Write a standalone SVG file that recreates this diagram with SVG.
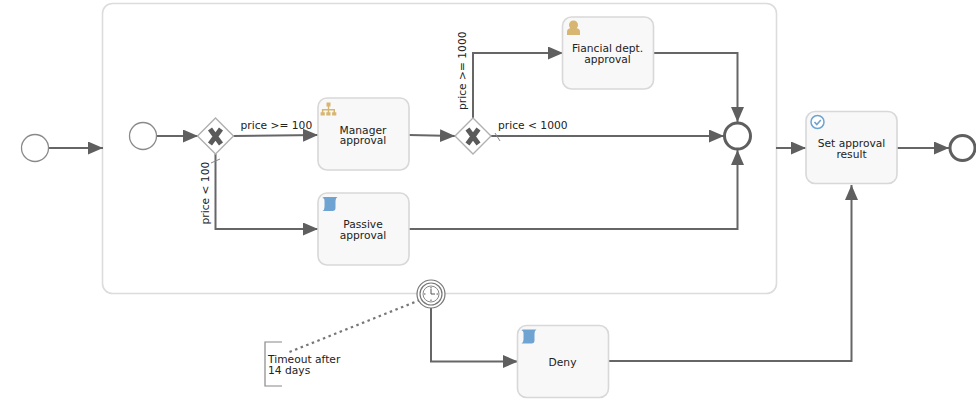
<svg xmlns="http://www.w3.org/2000/svg" width="976" height="401" viewBox="0 0 976 401">
<style>
text{font-family:"DejaVu Sans",sans-serif;font-size:10.7px;fill:#222}
.m{text-anchor:middle}
.task{fill:#f8f8f8;stroke:#d8d8d8;stroke-width:1.6}
.flow{fill:none;stroke:#666;stroke-width:2}
.gw{fill:#fff;stroke:#b0b0b0;stroke-width:1.4}
.x{fill:none;stroke:#5a5a5a;stroke-width:5}
.tick{stroke:#888;stroke-width:1;fill:none}
.end{fill:#fff;stroke:#5f5f5f;stroke-width:3}
.start{fill:#fff;stroke:#8a8a8a;stroke-width:1.3}
.blue{fill:#6ea3d2}
.gold{fill:#d6b670}
</style>
<defs>
<marker id="a" markerUnits="userSpaceOnUse" markerWidth="16" markerHeight="14" refX="15" refY="6.5" orient="auto"><path d="M0 0L15 6.5L0 13Z" fill="#5f5f5f"/></marker>
<path id="scroll" d="M2 0H15Q13 1 13 4V11Q13 14 10 14H0Q2 13 2 10V4Q2 1 0 1Q0 0 2 0Z" class="blue"/>
</defs>
<rect id="subprocess" x="102.500" y="3.500" width="674" height="290" rx="10" fill="#fff" stroke="#dcdcdc" stroke-width="1.6"/>
<g id="connectors">
<path class="flow" d="M49 148H103" marker-end="url(#a)"/>
<path class="flow" d="M157 136H198" marker-end="url(#a)"/>
<path class="flow" d="M233 136L318 135" marker-end="url(#a)"/>
<path class="flow" d="M215.500 154V229H318" marker-end="url(#a)"/>
<path class="flow" d="M409 135L455 136" marker-end="url(#a)"/>
<path class="flow" d="M473 118V53H563" marker-end="url(#a)"/>
<path class="flow" d="M491 136H724" marker-end="url(#a)"/>
<path class="flow" d="M653 53H737.500V122" marker-end="url(#a)"/>
<path class="flow" d="M409 229H737.500V150" marker-end="url(#a)"/>
<path class="flow" d="M776 148H806" marker-end="url(#a)"/>
<path class="flow" d="M897 148H949" marker-end="url(#a)"/>
<path class="flow" d="M431 308V361.500H518" marker-end="url(#a)"/>
<path class="flow" d="M608 361H851.500V185" marker-end="url(#a)"/>
<path d="M420 300L287 353" fill="none" stroke="#777" stroke-width="2.200" stroke-dasharray="2.500 3.500"/>
<path class="tick" d="M211 163L220 159"/>
<path class="tick" d="M495 133L500 141"/>
</g>
<g id="outer-start"><circle class="start" cx="35" cy="148" r="13.500"/></g>
<g id="inner-start"><circle class="start" cx="143" cy="136" r="13.500"/></g>
<g id="gateway1"><path class="gw" d="M215.500 118L233.500 136L215.500 154L197.500 136Z"/><path class="x" d="M210 129L221 144M221 129L210 144"/></g>
<g id="gateway2"><path class="gw" d="M473 118L491 136L473 154L455 136Z"/><path class="x" d="M467.500 129L478.500 144M478.500 129L467.500 144"/></g>
<g id="manager"><rect class="task" x="318" y="98" width="91" height="72" rx="9"/>
<path class="gold" d="M326.500 102.500h4v4h-1.300v2.500h5.800v3.200h1.300v3.300h-4.200v-3.300h1.400v-1.700h-4.300v1.700h1.300v3.300h-4.200v-3.300h1.400v-1.700h-4.300v1.700h1.400v3.300h-4.200v-3.300h1.300v-3.200h5.900v-2.500h-1.300z"/>
<text class="m" x="363" y="133.500">Manager</text><text class="m" x="363" y="144">approval</text></g>
<g id="passive"><rect class="task" x="318" y="193" width="91" height="72" rx="9"/>
<use href="#scroll" x="322.500" y="197"/>
<text class="m" x="363" y="228">Passive</text><text class="m" x="363" y="239">approval</text></g>
<g id="financial"><rect class="task" x="562.500" y="17" width="91" height="72" rx="9"/>
<circle class="gold" cx="573.500" cy="25" r="4.500"/><path class="gold" d="M567 35v-3.500q0-3 4-3.500h5q4 .5 4 3.500V35Z"/>
<text class="m" x="607.500" y="52">Fiancial dept.</text><text class="m" x="607.500" y="63">approval</text></g>
<g id="deny"><rect class="task" x="517.500" y="325.500" width="91" height="72" rx="9"/>
<use href="#scroll" x="521.500" y="329.500"/>
<text class="m" x="562.500" y="366">Deny</text></g>
<g id="set-result"><rect class="task" x="806" y="111.500" width="91" height="72" rx="9"/>
<circle cx="817.500" cy="122" r="6.500" fill="#fff" stroke="#6ea3d2" stroke-width="1.500"/><path d="M814.500 122l2.300 2.500 4-4.500" fill="none" stroke="#6ea3d2" stroke-width="1.600"/>
<text class="m" x="851.500" y="147">Set approval</text><text class="m" x="851.500" y="157.500">result</text></g>
<g id="inner-end"><circle class="end" cx="737.500" cy="136" r="13"/></g>
<g id="final-end"><circle class="end" cx="962.500" cy="148" r="12.500"/></g>
<g id="timer"><circle cx="431" cy="294" r="14" fill="#fff" stroke="#777" stroke-width="1.200"/><circle cx="431" cy="294" r="11" fill="#fff" stroke="#777" stroke-width="1.200"/><circle cx="431" cy="294" r="8" fill="#fff" stroke="#888" stroke-width="1"/><path d="M431 289V294H435M431 287v1.500M431 299.500v1.500M424 294h1.500M436.500 294h1.500" fill="none" stroke="#555" stroke-width="1"/></g>
<g id="annotation"><path d="M282 342H265V386H282" fill="none" stroke="#888" stroke-width="1.200"/>
<text x="268" y="363">Timeout after</text><text x="268" y="374">14 days</text></g>
<g id="labels">
<text x="240.500" y="128.500">price &gt;= 100</text>
<text x="498" y="129">price &lt; 1000</text>
<text transform="translate(209 224.500) rotate(-90)">price &lt; 100</text>
<text transform="translate(466 110) rotate(-90)">price &gt;= 1000</text>
</g>
</svg>
